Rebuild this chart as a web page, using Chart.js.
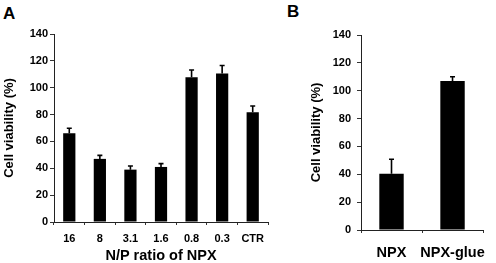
<!DOCTYPE html>
<html lang="en">
<head>
  <meta charset="UTF-8" />
  <title>Cell viability</title>
  <script src="https://cdn.jsdelivr.net/npm/chart.js"></script>
  <style>
    body {
      margin: 0;
      padding: 0;
      background: #fff;
      width: 496px;
      height: 263px;
      position: relative;
      overflow: hidden;
      font-family: "Liberation Sans", Arial, sans-serif;
    }
    .panel-letter {
      position: absolute;
      font-weight: bold;
      font-size: 17px;
      line-height: 17px;
      color: #000;
    }
    #chartA { position: absolute; left: 0; top: 0; }
    #chartB { position: absolute; left: 280px; top: 0; }
  </style>
</head>
<body>
  <div class="panel-letter" style="left:3px; top:5px;">A</div>
  <div class="panel-letter" style="left:287px; top:3px;">B</div>
  <canvas id="chartA" width="275" height="263"></canvas>
  <canvas id="chartB" width="216" height="263"></canvas>

  <script>
    // panel A
    const ratioLabels = ['16', '8', '3.1', '1.6', '0.8', '0.3', 'CTR'];
    const ratioViability = [66, 47, 39, 41, 107.7, 110.5, 81.7];
    const ratioError = [3.8, 2.6, 2.7, 2.5, 5.5, 6, 4.7];

    // panel B
    const glueLabels = ['NPX', 'NPX-glue'];
    const glueViability = [40.4, 107];
    const glueError = [10.4, 3];

    Chart.defaults.font.family = '"Liberation Sans", Arial, sans-serif';
    Chart.defaults.font.weight = 'bold';
    Chart.defaults.color = '#000';

    // draws upper error bars from dataset.errors
    const errorBars = {
      id: 'errorBars',
      afterDatasetsDraw(chart) {
        const ctx = chart.ctx;
        const yScale = chart.scales.y;
        chart.data.datasets.forEach((ds, di) => {
          const meta = chart.getDatasetMeta(di);
          meta.data.forEach((bar, i) => {
            const top = yScale.getPixelForValue(ds.data[i] + ds.errors[i]);
            ctx.save();
            ctx.strokeStyle = '#000';
            ctx.lineWidth = 1.6;
            ctx.beginPath();
            ctx.moveTo(bar.x, bar.y);
            ctx.lineTo(bar.x, top);
            ctx.moveTo(bar.x - 2.5, top);
            ctx.lineTo(bar.x + 2.5, top);
            ctx.stroke();
            ctx.restore();
          });
        });
      }
    };

    function makeChart(id, labels, values, errors, opts) {
      return new Chart(document.getElementById(id), {
        type: 'bar',
        data: {
          labels: labels,
          datasets: [{
            data: values,
            errors: errors,
            backgroundColor: '#000',
            borderWidth: 0,
            categoryPercentage: 1,
            barPercentage: opts.barPct
          }]
        },
        options: {
          responsive: false,
          animation: false,
          layout: { padding: opts.padding },
          plugins: {
            legend: { display: false },
            tooltip: { enabled: false }
          },
          scales: {
            x: {
              grid: { drawOnChartArea: false, tickLength: 3, color: '#333' },
              border: { color: '#222', width: 1 },
              ticks: {
                font: { size: opts.xFont, weight: 'bold' },
                padding: opts.xPad,
                maxRotation: 0,
                autoSkip: false
              },
              title: {
                display: !!opts.xTitle,
                text: opts.xTitle || '',
                font: { size: 14.5, weight: 'bold', lineHeight: 1 },
                padding: { top: 0, bottom: 0 }
              },
              afterFit: (s) => { s.height = opts.xHeight; }
            },
            y: {
              min: 0,
              max: 140,
              grid: { drawOnChartArea: false, tickLength: 4, color: '#333' },
              border: { color: '#222', width: 1 },
              ticks: { stepSize: 20, font: { size: 11, weight: 'bold' }, padding: opts.yPad },
              title: {
                display: true,
                text: 'Cell viability (%)',
                font: { size: 13, weight: 'bold' },
                padding: { top: opts.titlePad, bottom: 0 }
              },
              afterFit: (s) => { s.width = opts.yWidth; }
            }
          }
        },
        plugins: [errorBars]
      });
    }

    makeChart('chartA', ratioLabels, ratioViability, ratioError, {
      barPct: 0.4, padding: { top: 34, right: 7, left: 0, bottom: 0 },
      xFont: 11, xPad: 7, xHeight: 41, xTitle: 'N/P ratio of NPX',
      yWidth: 54, yPad: 2, titlePad: 1.5
    });

    makeChart('chartB', glueLabels, glueViability, glueError, {
      barPct: 0.4, padding: { top: 35, right: 1, left: 0, bottom: 0 },
      xFont: 14.5, xPad: 11, xHeight: 33, xTitle: null,
      yWidth: 81, yPad: 6, titlePad: 28.5
    });
  </script>
</body>
</html>
